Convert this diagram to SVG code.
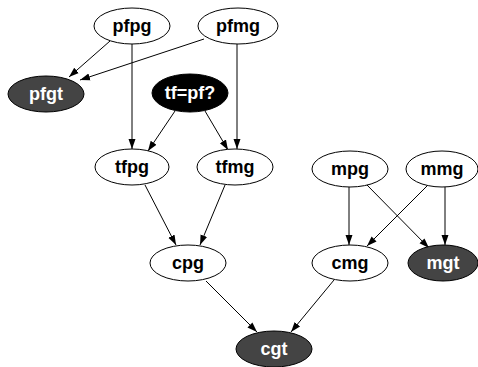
<svg xmlns="http://www.w3.org/2000/svg" width="478" height="367" viewBox="0 0 478 367">
  <style>
    .n ellipse { stroke: #000; stroke-width: 1; }
    .plain ellipse { fill: #fff; }
    .dark ellipse { fill: #444; }
    .black ellipse { fill: #000; }
    text { font-family: "Liberation Sans", Arial, sans-serif; font-weight: bold; font-size: 18px; text-anchor: middle; dominant-baseline: central; }
    .plain text { fill: #000; }
    .dark text, .black text { fill: #fff; }
    .edges line { stroke: #000; stroke-width: 1; marker-end: url(#arrow); }
  </style>
  <defs>
    <marker id="arrow" viewBox="0 0 10 10" refX="10" refY="5" markerWidth="10" markerHeight="10" markerUnits="userSpaceOnUse" orient="auto">
      <path d="M0,1.5 L10,5 L0,8.5 Z" fill="#000"/>
    </marker>
  </defs>
  <rect width="478" height="367" fill="#fff"/>

  <g class="edges">
    <line x1="110" y1="41" x2="69" y2="77"/>
    <line x1="204" y1="39" x2="80" y2="80"/>
    <line x1="132" y1="44" x2="132" y2="149"/>
    <line x1="237" y1="44" x2="237" y2="149"/>
    <line x1="175" y1="111" x2="148" y2="151"/>
    <line x1="205" y1="111" x2="228" y2="150"/>
    <line x1="145" y1="185" x2="176" y2="245"/>
    <line x1="225" y1="185" x2="200" y2="245"/>
    <line x1="349" y1="187" x2="349" y2="245"/>
    <line x1="367" y1="185" x2="429" y2="248"/>
    <line x1="427" y1="186" x2="367" y2="246"/>
    <line x1="445" y1="187" x2="445" y2="245"/>
    <line x1="206" y1="281" x2="257" y2="332"/>
    <line x1="334" y1="280" x2="291" y2="332"/>
  </g>

  <g id="pfpg" class="n plain"><ellipse cx="132" cy="26" rx="38" ry="18"/><text x="132" y="26">pfpg</text></g>
  <g id="pfmg" class="n plain"><ellipse cx="238" cy="26" rx="40" ry="18"/><text x="238" y="26">pfmg</text></g>
  <g id="pfgt" class="n dark"><ellipse cx="46" cy="94" rx="38" ry="18"/><text x="46" y="94">pfgt</text></g>
  <g id="tfpf" class="n black"><ellipse cx="190" cy="93" rx="38" ry="19"/><text x="190" y="93">tf=pf?</text></g>
  <g id="tfpg" class="n plain"><ellipse cx="132" cy="167" rx="37" ry="18"/><text x="132" y="167">tfpg</text></g>
  <g id="tfmg" class="n plain"><ellipse cx="235" cy="167" rx="38" ry="18"/><text x="235" y="167">tfmg</text></g>
  <g id="mpg" class="n plain"><ellipse cx="350" cy="169" rx="38" ry="18"/><text x="350" y="169">mpg</text></g>
  <g id="mmg" class="n plain"><ellipse cx="442" cy="169" rx="36" ry="18"/><text x="442" y="169">mmg</text></g>
  <g id="cpg" class="n plain"><ellipse cx="188" cy="263" rx="38" ry="18"/><text x="188" y="263">cpg</text></g>
  <g id="cmg" class="n plain"><ellipse cx="350" cy="263" rx="38" ry="18"/><text x="350" y="263">cmg</text></g>
  <g id="mgt" class="n dark"><ellipse cx="443" cy="263" rx="35" ry="18"/><text x="443" y="263">mgt</text></g>
  <g id="cgt" class="n dark"><ellipse cx="274" cy="349" rx="38" ry="18"/><text x="274" y="349">cgt</text></g>
</svg>
